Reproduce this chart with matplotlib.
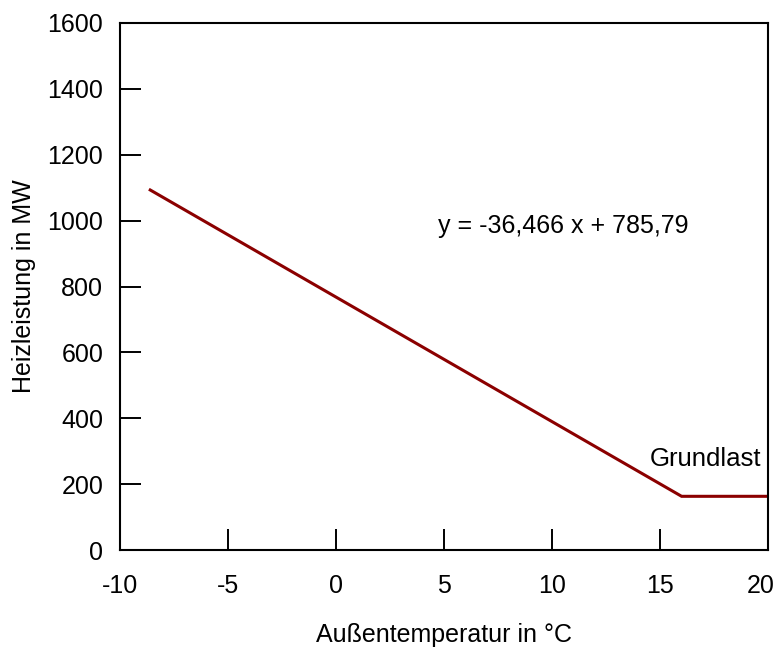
import matplotlib
matplotlib.use("Agg")
import matplotlib.pyplot as plt
from matplotlib.transforms import ScaledTranslation

plt.rcParams['font.family'] = ['Liberation Sans', 'DejaVu Sans']
plt.rcParams['axes.unicode_minus'] = False

# Heating load vs. outside temperature (linear range + base load)
temperature = [-8.6, 16.0, 20.0]
heat_load = [1093, 163, 163]

x_ticks = [-10, -5, 0, 5, 10, 15, 20]
y_ticks = [0, 200, 400, 600, 800, 1000, 1200, 1400, 1600]

fs = 18

fig = plt.figure(figsize=(7.78, 6.5), dpi=100)
ax = fig.add_axes([120/778, 100/650, 648/778, 527/650])

ax.plot(temperature, heat_load, color='#8B0000', linewidth=2.2, solid_joinstyle='miter')

ax.set_xlim(-10, 20)
ax.set_ylim(0, 1600)
ax.set_xticks(x_ticks)
ax.set_yticks(y_ticks)
ax.tick_params(axis='both', direction='in', length=15, width=1.4, labelsize=fs, color='black')
ax.tick_params(axis='x', pad=17)
ax.tick_params(axis='y', pad=12)
for s in ax.spines.values():
    s.set_linewidth(1.5)
    s.set_color('black')

# keep the last x tick label inside the figure
last = ax.get_xticklabels()[-1]
last.set_transform(last.get_transform() + ScaledTranslation(-5/72, 0, fig.dpi_scale_trans))

ax.set_xlabel('Außentemperatur in °C', fontsize=fs, labelpad=18)
ax.set_ylabel('Heizleistung in MW', fontsize=fs, labelpad=8)

ax.text(10.5, 985, 'y = -36,466 x + 785,79', fontsize=fs, ha='center', va='center')
ax.text(17.1, 275, 'Grundlast', fontsize=18.5, ha='center', va='center')

fig.savefig('out.png', dpi=100)
